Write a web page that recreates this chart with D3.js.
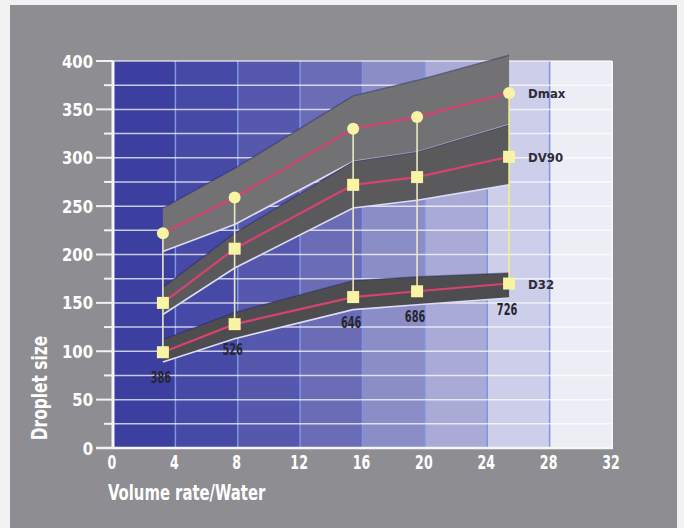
<!DOCTYPE html>
<html>
<head>
<meta charset="utf-8">
<script src="https://cdn.jsdelivr.net/npm/d3@7/dist/d3.min.js"></script>
<style>
  html, body { margin: 0; padding: 0; background: #f2f2f2; }
  svg { display: block; }
</style>
</head>
<body>
<svg id="chart" width="684" height="528"></svg>
<script>
// ---------- data ----------
const xValues    = [3.2, 7.8, 15.4, 19.5, 25.4];
const pointNotes = ["386", "526", "646", "686", "726"];

const dmax       = [222, 259, 330, 342, 367];
const dmaxUpper  = [248, 289, 364, 380, 406];
const dmaxLower  = [203, 231, 296, 306, 334];

const dv90       = [150, 206, 272, 280, 301];
const dv90Upper  = [166, 222, 296, 306, 334];
const dv90Lower  = [138, 186, 248, 256, 272];

const d32        = [99, 128, 156, 162, 170];
const d32Upper   = [112, 140, 173, 177, 181];
const d32Lower   = [89, 113, 143, 148, 155];

const seriesNames = ["Dmax", "DV90", "D32"];
const xTicks = [0, 4, 8, 12, 16, 20, 24, 28, 32];
const yTicks = [0, 50, 100, 150, 200, 250, 300, 350, 400];
const yMinorTicks = [25, 75, 125, 175, 225, 275, 325, 375];
const xTitle = "Volume rate/Water";
const yTitle = "Droplet size";

// ---------- styles ----------
const bandColors = ["#3c3f9f", "#4649a5", "#5558ad", "#6a6cb6", "#8b8dc6", "#a9aad6", "#cdcee9", "#ededf6"];
const FONT = "'DejaVu Sans Condensed', 'DejaVu Sans', sans-serif";

const svg = d3.select("#chart");
const x = d3.scaleLinear().domain([0, 32]).range([113, 612]);
const y = d3.scaleLinear().domain([0, 400]).range([448, 61]);

// frame
svg.append("rect").attr("x", 10).attr("y", 5).attr("width", 667).attr("height", 523).attr("fill", "#8e8e92");

// background colour bands
const bandStarts = d3.range(0, 32, 4);
svg.append("g").selectAll("rect").data(bandStarts).join("rect")
  .attr("x", d => x(d)).attr("y", y(400))
  .attr("width", d => x(d + 4) - x(d)).attr("height", y(0) - y(400))
  .attr("fill", (d, i) => bandColors[i]);

// vertical grid
svg.append("g").selectAll("line").data(xTicks.filter(d => d > 0 && d < 32)).join("line")
  .attr("x1", d => x(d)).attr("x2", d => x(d))
  .attr("y1", y(400)).attr("y2", y(0))
  .attr("stroke", "#7f95e2").attr("stroke-width", 1.5);

// horizontal grid
svg.append("g").selectAll("line").data(d3.range(25, 401, 25)).join("line")
  .attr("x1", x(0)).attr("x2", x(32))
  .attr("y1", d => y(d)).attr("y2", d => y(d))
  .attr("stroke", "#ffffff").attr("stroke-opacity", 0.72).attr("stroke-width", 1.5);

// plot right edge
svg.append("line").attr("x1", x(32)).attr("x2", x(32)).attr("y1", y(400)).attr("y2", y(0))
  .attr("stroke", "#f4f4fa").attr("stroke-width", 2);

// bands
const series = [
  { name: seriesNames[0], mid: dmax, up: dmaxUpper, lo: dmaxLower, fill: "#727275", marker: "circle" },
  { name: seriesNames[1], mid: dv90, up: dv90Upper, lo: dv90Lower, fill: "#5a5a5d", marker: "square" },
  { name: seriesNames[2], mid: d32,  up: d32Upper,  lo: d32Lower,  fill: "#4d4d50", marker: "square" }
];

const area = d3.area().x((d, i) => x(xValues[i])).y0(d => y(d[0])).y1(d => y(d[1]));
const line = d3.line().x((d, i) => x(xValues[i])).y(d => y(d));

const gBands = svg.append("g");
series.forEach(s => {
  const pts = s.lo.map((v, i) => [v, s.up[i]]);
  gBands.append("path").datum(pts).attr("d", area).attr("fill", s.fill);
  gBands.append("path").datum(s.up).attr("d", line).attr("fill", "none")
    .attr("stroke", "#23235e").attr("stroke-opacity", 0.4).attr("stroke-width", 1.5);
  gBands.append("path").datum(s.lo).attr("d", line).attr("fill", "none")
    .attr("stroke", "#dcdcf4").attr("stroke-width", 1.6);
});
series.forEach(s => {
  gBands.append("path").datum(s.mid).attr("d", line).attr("fill", "none")
    .attr("stroke", "#d8426f").attr("stroke-width", 2.2);
});

// axes lines and ticks
svg.append("line").attr("x1", x(0)).attr("x2", x(0)).attr("y1", y(400)).attr("y2", y(0) + 1)
  .attr("stroke", "#f6f6f6").attr("stroke-width", 3);
svg.append("line").attr("x1", 96).attr("x2", x(32) + 1).attr("y1", y(0)).attr("y2", y(0))
  .attr("stroke", "#f6f6f6").attr("stroke-width", 2.5);
svg.append("g").selectAll("line").data(yTicks).join("line")
  .attr("x1", 96).attr("x2", x(0)).attr("y1", d => y(d)).attr("y2", d => y(d))
  .attr("stroke", "#f2f2f2").attr("stroke-width", 2);
svg.append("g").selectAll("line").data(yMinorTicks).join("line")
  .attr("x1", 104).attr("x2", x(0)).attr("y1", d => y(d)).attr("y2", d => y(d))
  .attr("stroke", "#f2f2f2").attr("stroke-width", 2);

// connectors
svg.append("g").selectAll("line").data(xValues).join("line")
  .attr("x1", d => x(d)).attr("x2", d => x(d))
  .attr("y1", (d, i) => y(dmax[i])).attr("y2", (d, i) => y(d32[i]))
  .attr("stroke", (d, i) => i === xValues.length - 1 ? "#f3ef86" : "#ebe9c4")
  .attr("stroke-width", 1.6);

// markers
series.forEach(s => {
  const g = svg.append("g");
  if (s.marker === "circle") {
    g.selectAll("circle").data(s.mid).join("circle")
      .attr("cx", (d, i) => x(xValues[i])).attr("cy", d => y(d)).attr("r", 6)
      .attr("fill", "#f7f4a4");
  } else {
    g.selectAll("rect").data(s.mid).join("rect")
      .attr("x", (d, i) => x(xValues[i]) - 6).attr("y", d => y(d) - 6)
      .attr("width", 12).attr("height", 12).attr("fill", "#f7f4a4");
  }
});

// helper: narrow text via horizontal scaling
function narrowText(g, px, py, sx, rot) {
  return g.attr("transform", `translate(${px},${py})` + (rot ? ` rotate(${rot})` : "") + ` scale(${sx},1)`);
}

// point notes under D32
svg.append("g").selectAll("text").data(pointNotes).join("text")
  .each(function (d, i) { narrowText(d3.select(this), x(xValues[i]) - 2, y(d32[i]) + 31, 0.68); })
  .attr("text-anchor", "middle")
  .attr("font-family", FONT).attr("font-weight", "bold").attr("font-size", 16)
  .attr("fill", "#26262e").text(d => d);

// series labels
svg.append("g").selectAll("text").data(series).join("text")
  .attr("x", x(xValues[xValues.length - 1]) + 19)
  .attr("y", d => y(d.mid[d.mid.length - 1]) + 5)
  .attr("font-family", FONT).attr("font-weight", "bold").attr("font-size", 13)
  .attr("fill", "#2c2c3a").text(d => d.name);

// y tick labels
svg.append("g").selectAll("text").data(yTicks).join("text")
  .each(function (d) { narrowText(d3.select(this), 93, y(d) + 6.5, 0.92); })
  .attr("text-anchor", "end")
  .attr("font-family", FONT).attr("font-weight", "bold").attr("font-size", 18)
  .attr("fill", "#ffffff").text(d => d);

// x tick labels
svg.append("g").selectAll("text").data(xTicks).join("text")
  .each(function (d) { narrowText(d3.select(this), x(d) - 1, 469, 0.7); })
  .attr("text-anchor", "middle")
  .attr("font-family", FONT).attr("font-weight", "bold").attr("font-size", 20)
  .attr("fill", "#ffffff").text(d => d);

// titles
narrowText(svg.append("text"), 108, 500, 0.75)
  .attr("font-family", FONT).attr("font-weight", "bold").attr("font-size", 22)
  .attr("fill", "#ffffff").text(xTitle);
narrowText(svg.append("text"), 47, 388, 0.78, -90).attr("text-anchor", "middle")
  .attr("font-family", FONT).attr("font-weight", "bold").attr("font-size", 22)
  .attr("fill", "#ffffff").text(yTitle);
</script>
</body>
</html>
